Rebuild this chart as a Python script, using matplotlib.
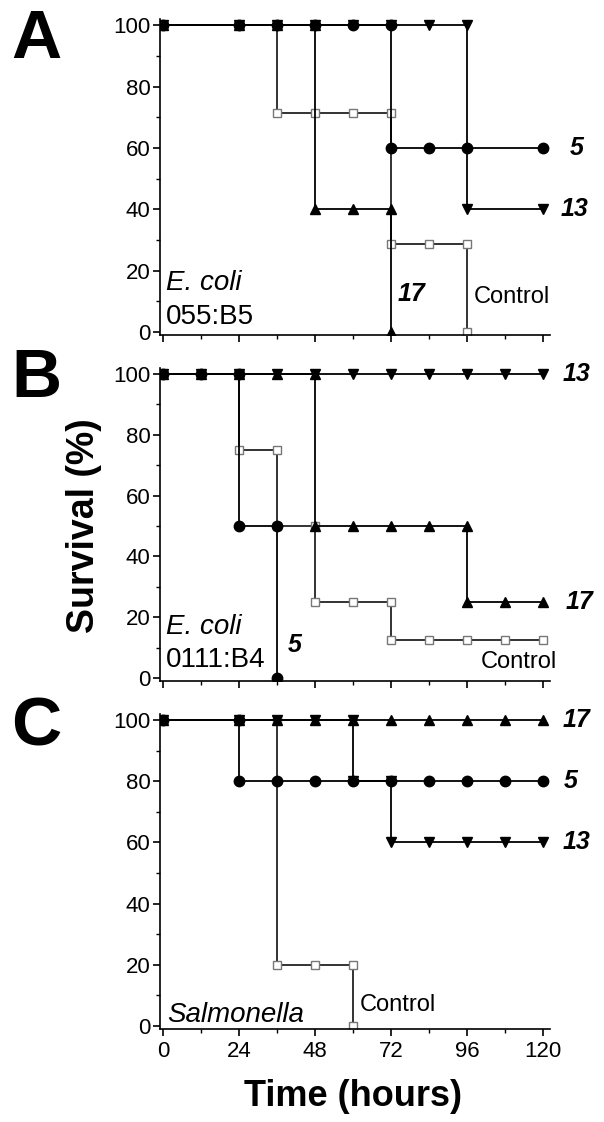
import matplotlib
matplotlib.use("Agg")
import matplotlib.pyplot as plt
from matplotlib.ticker import MultipleLocator

plt.rcParams['font.family'] = ['Liberation Sans', 'DejaVu Sans']

# panel A: E. coli 055:B5
a_x5 = [0, 24, 36, 48, 60, 72, 72, 84, 96, 120]
a_y5 = [100, 100, 100, 100, 100, 100, 60, 60, 60, 60]
a_x13 = [0, 24, 36, 48, 60, 72, 84, 96, 96, 120]
a_y13 = [100, 100, 100, 100, 100, 100, 100, 100, 40, 40]
a_x17 = [0, 24, 36, 48, 48, 60, 72, 72]
a_y17 = [100, 100, 100, 100, 40, 40, 40, 0]
a_xc = [0, 24, 36, 36, 48, 60, 72, 72, 84, 96, 96]
a_yc = [100, 100, 100, 71.4, 71.4, 71.4, 71.4, 28.6, 28.6, 28.6, 0]

# panel B: E. coli 0111:B4
b_x5 = [0, 12, 24, 24, 36, 36]
b_y5 = [100, 100, 100, 50, 50, 0]
b_x13 = [0, 12, 24, 36, 48, 60, 72, 84, 96, 108, 120]
b_y13 = [100, 100, 100, 100, 100, 100, 100, 100, 100, 100, 100]
b_x17 = [0, 12, 24, 36, 48, 48, 60, 72, 84, 96, 96, 108, 120]
b_y17 = [100, 100, 100, 100, 100, 50, 50, 50, 50, 50, 25, 25, 25]
b_xc = [0, 12, 24, 24, 36, 36, 48, 48, 60, 72, 72, 84, 96, 108, 120]
b_yc = [100, 100, 100, 75, 75, 50, 50, 25, 25, 25, 12.5, 12.5, 12.5, 12.5, 12.5]

# panel C: Salmonella
c_x5 = [0, 24, 24, 36, 48, 60, 72, 84, 96, 108, 120]
c_y5 = [100, 100, 80, 80, 80, 80, 80, 80, 80, 80, 80]
c_x13 = [0, 24, 36, 48, 60, 60, 72, 72, 84, 96, 108, 120]
c_y13 = [100, 100, 100, 100, 100, 80, 80, 60, 60, 60, 60, 60]
c_x17 = [0, 24, 36, 48, 60, 72, 84, 96, 108, 120]
c_y17 = [100, 100, 100, 100, 100, 100, 100, 100, 100, 100]
c_xc = [0, 24, 36, 36, 48, 60, 60]
c_yc = [100, 100, 100, 20, 20, 20, 0]

xticks = [0, 24, 48, 72, 96, 120]
yticks = [0, 20, 40, 60, 80, 100]

fig = plt.figure(figsize=(6.04, 11.22), dpi=100)

# [left, bottom, width, height] in figure fractions
ax_a = fig.add_axes([0.2649, 0.7014, 0.6457, 0.2816])
ax_b = fig.add_axes([0.2649, 0.3930, 0.6457, 0.2790])
ax_c = fig.add_axes([0.2649, 0.0829, 0.6457, 0.2807])


def draw(ax, xc, yc, x5, y5, x13, y13, x17, y17):
    ax.plot(xc, yc, '-', color='#222222', lw=1.3, marker='s', ms=6,
            mfc='white', mec='#777777', mew=1.0, zorder=2)
    ax.plot(x17, y17, '-', color='black', lw=1.3, marker='^', ms=7.5,
            mfc='black', mec='black', zorder=3)
    ax.plot(x13, y13, '-', color='black', lw=1.3, marker='v', ms=7.5,
            mfc='black', mec='black', zorder=3)
    ax.plot(x5, y5, '-', color='black', lw=1.3, marker='o', ms=7.5,
            mfc='black', mec='black', zorder=3)
    ax.set_xlim(-1, 122.2)
    ax.set_ylim(-1, 102)
    ax.set_xticks(xticks)
    ax.set_yticks(yticks)
    ax.xaxis.set_minor_locator(MultipleLocator(12))
    ax.yaxis.set_minor_locator(MultipleLocator(10))
    for s in ['top', 'right']:
        ax.spines[s].set_visible(False)
    for s in ['left', 'bottom']:
        ax.spines[s].set_linewidth(1.2)
    ax.tick_params(which='major', direction='out', length=5, width=1.2,
                   labelsize=16, pad=2)
    ax.tick_params(axis='x', which='major', pad=4)
    ax.tick_params(which='minor', direction='out', length=3, width=1.0)


draw(ax_a, a_xc, a_yc, a_x5, a_y5, a_x13, a_y13, a_x17, a_y17)
draw(ax_b, b_xc, b_yc, b_x5, b_y5, b_x13, b_y13, b_x17, b_y17)
draw(ax_c, c_xc, c_yc, c_x5, c_y5, c_x13, c_y13, c_x17, c_y17)

ax_a.tick_params(axis='x', labelbottom=False)
ax_b.tick_params(axis='x', labelbottom=False)

lab = dict(fontsize=18, fontweight='bold', style='italic', va='center',
           ha='left', clip_on=False)
ital = dict(fontsize=20, style='italic', va='center', ha='left')
norm = dict(fontsize=20, va='center', ha='left')
ctrl = dict(fontsize=17, va='center', ha='left')

# panel A labels
ax_a.text(128.5, 60, '5', **lab)
ax_a.text(125.4, 40, '13', **lab)
ax_a.text(74.2, 12.5, '17', **lab)
ax_a.text(98.2, 11.5, 'Control', **ctrl)
ax_a.text(1, 16, 'E. coli', **ital)
ax_a.text(1, 4.9, '055:B5', **norm)

# panel B labels
ax_b.text(126.3, 100, '13', **lab)
ax_b.text(127, 25, '17', **lab)
ax_b.text(39.5, 10.9, '5', **lab)
ax_b.text(100.4, 5.3, 'Control', **ctrl)
ax_b.text(1, 16.8, 'E. coli', **ital)
ax_b.text(1, 5.9, '0111:B4', **norm)

# panel C labels
ax_c.text(126.3, 100, '17', **lab)
ax_c.text(126.6, 80, '5', **lab)
ax_c.text(126.3, 60, '13', **lab)
ax_c.text(62, 6.9, 'Control', **ctrl)
ax_c.text(1.2, 3.6, 'Salmonella', **ital)

# panel letters
for letter, yy in [('A', 40), ('B', 379), ('C', 727)]:
    fig.text(36 / 604, 1 - yy / 1122, letter, fontsize=50, fontweight='bold',
             ha='center', va='center')

fig.text(84 / 604, 1 - 526 / 1122, 'Survival (%)', fontsize=27,
         fontweight='bold', rotation=90, ha='center', va='center')
fig.text(353 / 604, 1 - 1097 / 1122, 'Time (hours)', fontsize=26,
         fontweight='bold', ha='center', va='center')

fig.savefig('out.png', dpi=100)
